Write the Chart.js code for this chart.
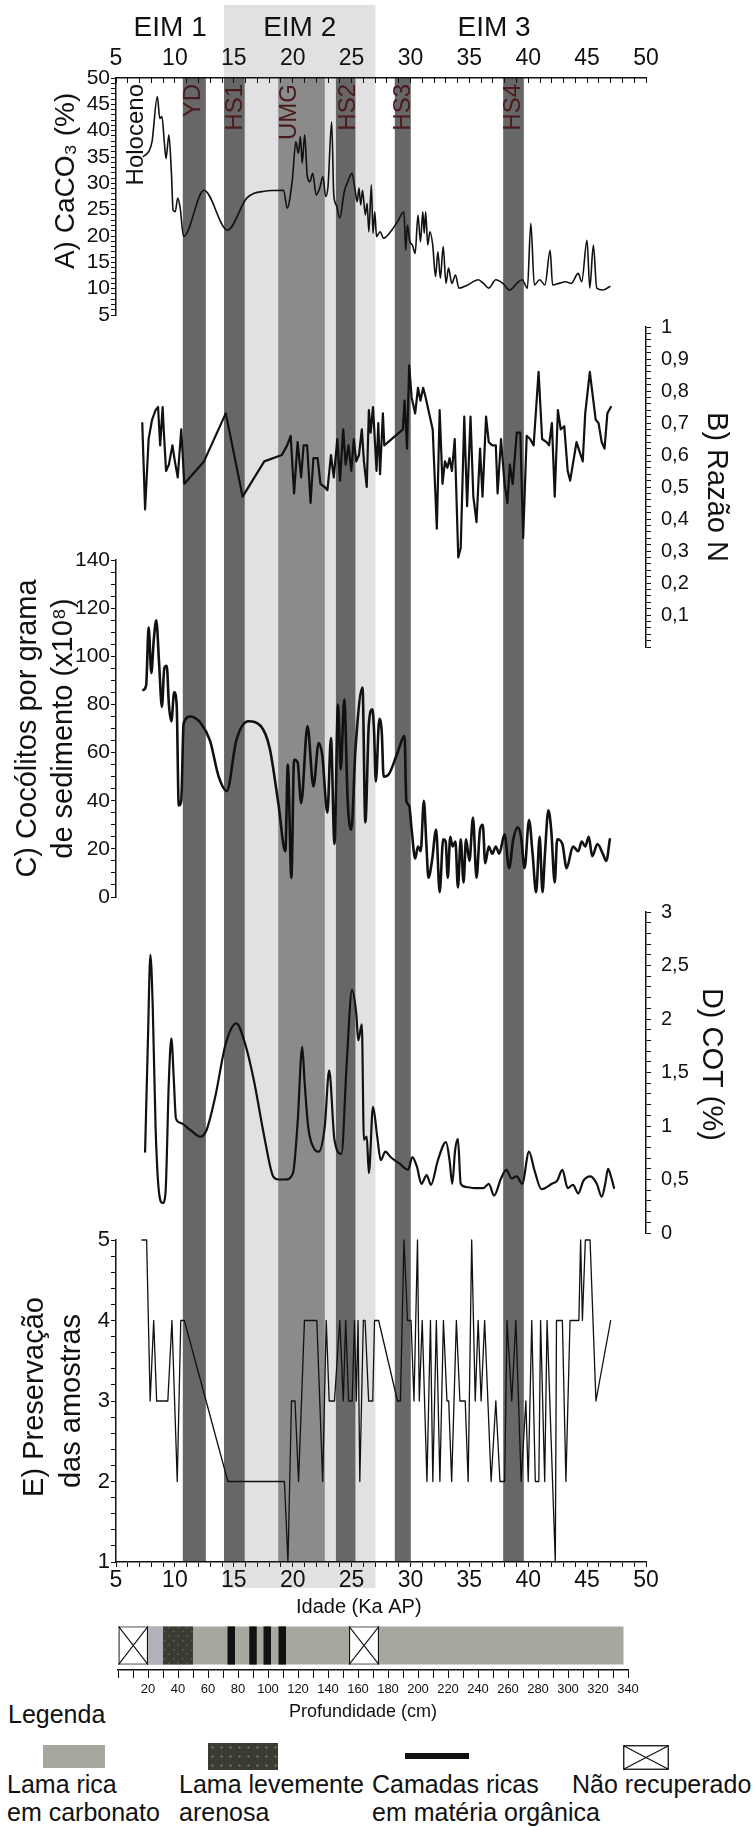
<!DOCTYPE html>
<html><head><meta charset="utf-8">
<script src="https://cdn.jsdelivr.net/npm/chart.js@4.4.1/dist/chart.umd.min.js"></script>
<style>
html,body{margin:0;padding:0;background:#fff;}
#wrap{position:relative;width:753px;height:1827px;overflow:hidden;background:#fff;font-family:'Liberation Sans',Arial,Helvetica,sans-serif;color:#111;}
#wrap canvas{position:absolute;left:0;top:0;}
.t{position:absolute;white-space:nowrap;font-size:25px;line-height:28px;}
.sw{position:absolute;box-sizing:border-box;}
</style></head>
<body><div id="wrap">
<div class="t" style="left:8px;top:1700px;">Legenda</div>
<div class="sw" style="left:43px;top:1745px;width:62px;height:23px;background:#a8a79f;"></div>
<div class="sw" style="left:208px;top:1743px;width:70px;height:27px;background-color:#3b3b34;background-image:radial-gradient(circle,#66665a 1px,transparent 1.3px);background-size:9px 9px;"></div>
<div class="sw" style="left:405px;top:1753px;width:64px;height:6px;background:#111;"></div>
<svg class="sw" style="left:623px;top:1745px;" width="46" height="25"><rect x="0.75" y="0.75" width="44.5" height="23.5" fill="#fff" stroke="#111" stroke-width="1.3"/><line x1="1" y1="1" x2="45" y2="24" stroke="#111" stroke-width="1.2"/><line x1="1" y1="24" x2="45" y2="1" stroke="#111" stroke-width="1.2"/></svg>
<div class="t" style="left:7px;top:1770px;">Lama rica<br>em carbonato</div>
<div class="t" style="left:179px;top:1770px;">Lama levemente<br>arenosa</div>
<div class="t" style="left:372px;top:1770px;">Camadas ricas<br>em matéria orgânica</div>
<div class="t" style="left:572px;top:1770px;">Não recuperado</div>
</div>
<script>
// ---------------- DATA ----------------
const ageLabels = [5,10,15,20,25,30,35,40,45,50];
const caTicks = [5,10,15,20,25,30,35,40,45,50];
const nTicks = [0.1,0.2,0.3,0.4,0.5,0.6,0.7,0.8,0.9,1];
const cocTicks = [0,20,40,60,80,100,120,140];
const cotTicks = [0,0.5,1,1.5,2,2.5,3];
const presTicks = [1,2,3,4,5];
const depthLabels = [20,40,60,80,100,120,140,160,180,200,220,240,260,280,300,320,340];

const eimNames = ['EIM 1','EIM 2','EIM 3'];
const eimStart = [5, 14.2, 27.0];
const eimEnd = [14.2, 27.0, 47.2];

const bandNames = ['YD','HS1','UMG','HS2','HS3','HS4'];
const bandStart = [10.7, 14.2, 18.8, 23.7, 28.7, 37.9];
const bandEnd = [12.6, 15.9, 22.7, 25.3, 30.0, 39.6];

const markerNames = ['Holoceno','YD','HS1','UMG','HS2','HS3','HS4'];
const markerAges = [6.7, 11.6, 15.1, 19.7, 24.7, 29.4, 38.7];

// A) CaCO3 (%)
const caAge = [7.32,7.77,8.06,8.51,8.72,8.9,9.1,9.25,9.49,9.7,9.85,10.03,10.24,10.45,10.74,12.47,14.47,16.1,17.6,19.23,19.53,19.97,20.27,20.48,20.66,20.81,21.02,21.23,21.46,21.7,22.0,22.3,22.57,22.8,23.0,23.31,23.49,23.7,24.0,24.38,24.68,25.04,25.28,25.48,25.63,25.78,25.93,26.17,26.32,26.47,26.68,26.82,26.97,27.12,27.42,27.72,28.31,28.9,29.45,29.6,29.74,29.95,30.16,30.4,30.64,30.85,31.05,31.17,31.29,31.47,31.65,31.89,32.13,32.33,32.54,32.78,33.02,33.23,33.52,33.82,34.12,34.86,35.76,36.2,36.65,37.25,37.84,38.44,39.03,39.48,39.93,40.22,40.52,40.97,41.42,41.86,42.07,42.61,43.2,43.65,44.25,44.54,44.99,45.23,45.53,45.82,46.33,46.93];
const caVal = [35.1,36,37.9,46.5,42.3,42.7,37.9,34.7,39.2,32.2,24.9,24.6,27.2,25.3,19.9,28.7,21.1,27.2,28.5,28.7,25.3,30.6,37.9,35.7,38.9,33.8,39.2,31.6,30.3,31.9,27.8,29.1,31.3,27.5,29.4,41.7,27.8,25.9,23.4,28.4,30.3,31.9,29.1,26.5,29.1,25.9,28.7,24,26.2,20.8,29.7,20.5,24.6,19.9,20.8,19.6,20.8,22.7,24.6,17.3,22.1,18.9,18.3,16.7,24,18.9,24.6,20.5,24.6,18.3,20.8,18.3,12.3,17,12,18,11,13.9,11,12.6,10.1,10.7,11.7,11,10.1,11.7,11,9.75,11,11.7,10.1,22.4,10.7,11.7,10.7,17.3,10.7,11,11.3,11,12.9,11.3,19.2,10.1,18.3,10.1,9.75,10.4];

// B) Razão N
const nAge = [7.23,7.47,7.77,8.06,8.36,8.57,8.75,8.96,9.05,9.25,9.49,9.79,10.0,10.24,10.54,10.8,12.47,14.32,15.75,17.59,19.08,19.53,19.83,20.12,20.42,20.72,20.93,21.23,21.52,21.76,22.12,22.36,22.72,22.95,23.25,23.49,23.79,24.02,24.29,24.5,24.74,24.98,25.19,25.4,25.63,25.87,26.05,26.29,26.47,26.62,26.82,26.97,27.12,27.27,27.42,27.66,27.78,29.36,29.5,29.71,29.89,30.1,30.4,30.64,30.85,31.08,31.29,31.59,31.89,32.24,32.48,32.72,32.93,33.14,33.32,33.52,33.76,34.06,34.27,34.57,34.81,35.1,35.34,35.61,35.91,36.12,36.42,36.65,36.95,37.25,37.4,37.69,37.99,38.23,38.44,38.68,39.03,39.33,39.57,39.87,40.16,40.46,40.88,41.18,41.56,41.77,42.01,42.25,42.52,42.76,43.06,43.35,43.56,44.1,44.63,44.84,45.23,45.73,45.97,46.24,46.48,46.72,47.02];
const nVal = [0.70,0.43,0.65,0.71,0.74,0.75,0.63,0.75,0.68,0.55,0.57,0.63,0.58,0.53,0.68,0.51,0.58,0.73,0.47,0.58,0.60,0.63,0.66,0.48,0.64,0.53,0.63,0.63,0.45,0.59,0.59,0.51,0.50,0.49,0.60,0.53,0.65,0.52,0.68,0.57,0.63,0.55,0.65,0.58,0.60,0.68,0.58,0.50,0.74,0.67,0.75,0.65,0.55,0.70,0.54,0.73,0.63,0.68,0.77,0.62,0.88,0.78,0.73,0.81,0.77,0.81,0.78,0.73,0.68,0.37,0.74,0.51,0.58,0.56,0.59,0.55,0.65,0.28,0.31,0.72,0.44,0.72,0.47,0.39,0.62,0.47,0.72,0.64,0.63,0.63,0.48,0.65,0.51,0.45,0.57,0.51,0.67,0.67,0.34,0.66,0.65,0.63,0.86,0.65,0.64,0.63,0.70,0.47,0.74,0.68,0.69,0.55,0.52,0.64,0.58,0.73,0.86,0.71,0.70,0.64,0.62,0.73,0.75];

// C) Cocólitos por grama de sedimento (x10^8)
const cocAge = [7.32,7.56,7.77,8.0,8.21,8.42,8.66,8.9,9.1,9.31,9.49,9.7,9.94,10.15,10.33,10.54,10.74,11.34,12.23,12.98,13.72,14.41,15.21,16.25,17.3,18.04,18.78,19.38,19.59,19.89,20.12,20.42,20.72,21.26,21.76,22.21,22.51,22.95,23.25,23.55,23.85,24.08,24.38,24.68,24.98,25.34,25.93,26.17,26.47,26.77,26.91,27.06,27.36,27.57,27.72,28.16,28.91,29.5,29.65,29.89,30.1,30.4,30.64,30.87,31.14,31.35,31.53,31.83,32.18,32.48,32.78,32.99,33.17,33.38,33.58,33.82,34.03,34.27,34.51,34.72,35.01,35.31,35.61,35.91,36.14,36.35,36.65,36.95,37.25,37.54,37.99,38.38,38.73,39.12,39.39,39.69,40.07,40.37,40.67,40.97,41.21,41.42,41.71,41.95,42.25,42.46,42.9,43.26,43.8,44.25,44.54,44.84,45.14,45.43,45.88,46.33,46.63,46.93];
const cocVal = [86,88,112,93,107,115,97,79,95,96,80,73,85,80,38,40,72,75,72,65,50,44,65,73,71,62,39,19,55,8,57,56,39,71,46,64,59,35,66,22,80,53,82,39,28,62,87,31,72,78,69,48,74,68,50,51,60,67,40,38,28,16,21,19,40,22,8,15,28,2,24,23,8,25,21,23,4,24,6,24,15,33,8,28,30,14,21,18,21,18,26,12,24,29,25,12,32,18,2,25,2,18,36,28,6,24,22,12,21,19,23,21,25,17,22,18,15,24];

// D) COT (%)
const cotAge = [7.47,7.71,7.92,8.12,8.36,8.66,8.96,9.2,9.49,9.7,9.91,10.09,10.45,11.34,12.17,12.68,13.42,14.32,15.21,15.96,16.7,17.59,18.34,18.78,19.38,20.03,20.42,20.81,21.02,21.32,21.76,22.21,22.72,23.1,23.55,24.14,24.59,25.04,25.4,25.57,25.87,26.05,26.29,26.47,26.82,27.18,27.48,27.87,28.31,29.06,29.8,30.16,30.55,30.93,31.38,31.74,32.33,33.02,33.32,33.55,33.79,34.03,34.27,34.72,35.46,36.2,36.65,37.1,37.69,38.14,38.59,39.03,39.48,40.07,40.52,41.12,42.01,42.46,42.9,43.35,43.8,44.25,44.69,45.29,45.82,46.24,46.54,46.78,47.02,47.29];
const cotVal = [0.76,1.8,2.6,2.11,0.99,0.37,0.28,0.37,1.43,1.82,1.43,1.07,1.03,0.96,0.9,0.96,1.27,1.77,1.96,1.77,1.43,0.9,0.53,0.5,0.5,0.56,1.03,1.74,1.4,0.99,0.8,0.76,0.99,1.52,0.87,0.74,1.59,2.27,2.05,1.8,1.95,0.87,0.9,0.56,1.18,0.9,0.68,0.76,0.71,0.65,0.59,0.71,0.62,0.46,0.54,0.45,0.68,0.85,0.68,0.46,0.77,0.88,0.46,0.43,0.42,0.42,0.46,0.35,0.51,0.59,0.51,0.53,0.46,0.76,0.59,0.41,0.46,0.49,0.59,0.42,0.45,0.37,0.49,0.53,0.46,0.34,0.46,0.6,0.53,0.42];

// E) Preservação das amostras
const presAge = [7.2,7.6,7.9,8.2,8.45,9.4,9.75,10.2,10.5,10.8,14.5,19.3,19.6,19.9,20.2,20.5,21.0,22.05,22.55,22.85,23.1,23.55,24.0,24.3,24.5,24.75,25.05,25.25,25.4,25.55,25.7,26.0,26.15,26.45,26.8,26.95,27.3,28.9,29.15,29.45,29.75,30.05,30.3,30.6,30.75,31.0,31.4,31.7,31.9,32.2,32.5,32.8,33.1,33.25,33.5,33.9,34.2,34.65,34.9,35.2,35.5,35.75,36.0,36.3,36.85,37.25,37.6,38.0,38.2,38.6,38.95,39.4,39.8,40.0,40.3,40.6,40.9,41.05,41.4,41.6,42.3,42.4,42.9,43.2,43.55,44.3,44.45,44.6,44.85,45.25,45.75,47.0];
const presVal = [5,5,3,4,3,3,4,2,4,4,2,2,1,3,3,2,4,4,2,4,3,3,4,3,4,3,3,4,3,4,2,4,4,3,3,4,4,3,3,5,4,4,3,5,3,4,2,4,2,4,2,4,3,3,2,4,3,3,2,5,3,4,3,4,2,3,2,2,4,3,4,2,3,2,4,2,2,4,2,4,1,4,4,2,4,4,5,4,5,5,3,4];

// Core log (depth, cm) — listed top layer first, base sediment last
const coreStart = [0, 20, 30, 73, 87.5, 97, 107, 154, 0];
const coreEnd = [20, 30, 50, 78, 92.5, 102, 112, 174, 337];
const coreKind = ['nr','light','sand','org','org','org','org','nr','carb'];

// ---------------- RENDERING ----------------
const W = 753, H = 1827, XL = 116, XR = 646;
const INK = '#111111';
const NB = '\u00a0';
const FONT = "'Liberation Sans', Arial, Helvetica, sans-serif";
Chart.defaults.font.family = FONT;
Chart.defaults.color = INK;

const wrap = document.getElementById('wrap');
function mkCanvas(){
  const c = document.createElement('canvas');
  c.width = W; c.height = H;
  c.style.width = W + 'px'; c.style.height = H + 'px';
  wrap.appendChild(c);
  return c;
}
function pick(list, v, fmt){
  const hit = list.find(e => Math.abs(e - v) < 1e-6);
  return hit === undefined ? '' : fmt(hit);
}
const comma = v => String(v).replace('.', ',');
const plain = v => String(v);
const baseOpts = {responsive:false, animation:false, events:[], plugins:{legend:{display:false}, tooltip:{enabled:false}}};

// light EIM 2 band + EIM labels
const eimPlugin = {
  id:'eim',
  afterDatasetsDraw(chart){
    const ctx = chart.ctx, xs = chart.scales.x;
    ctx.save();
    ctx.font = '28px ' + FONT;
    ctx.fillStyle = INK; ctx.textAlign = 'center'; ctx.textBaseline = 'middle';
    eimNames.forEach((n, i) => {
      ctx.fillText(n, xs.getPixelForValue((eimStart[i] + eimEnd[i]) / 2), 28);
    });
    ctx.restore();
  }
};
new Chart(mkCanvas(), {
  type:'bar',
  data:{labels:[''], datasets:[{data:[[eimStart[1], eimEnd[1]]], backgroundColor:'#e1e1e3', borderWidth:0, barPercentage:1, categoryPercentage:1}]},
  options:{...baseOpts, indexAxis:'y',
    layout:{padding:{left:XL, right:W-XR, top:5, bottom:H-1588}},
    scales:{x:{type:'linear', min:5, max:50, display:false}, y:{type:'category', display:false}}},
  plugins:[eimPlugin]
});

// dark event bands + labels
const markerPlugin = {
  id:'markers',
  afterDatasetsDraw(chart){
    const ctx = chart.ctx, xs = chart.scales.x, top = chart.chartArea.top;
    ctx.save();
    ctx.font = '24px ' + FONT;
    ctx.textAlign = 'right'; ctx.textBaseline = 'middle';
    markerNames.forEach((n, i) => {
      ctx.save();
      ctx.translate(xs.getPixelForValue(markerAges[i]), top + 6);
      ctx.rotate(-Math.PI / 2);
      ctx.fillStyle = n === 'Holoceno' ? INK : '#4a1a1c';
      ctx.fillText(n, 0, 0);
      ctx.restore();
    });
    ctx.restore();
  }
};
new Chart(mkCanvas(), {
  type:'bar',
  data:{labels:[''], datasets: bandNames.map((n, i) => ({
    label:n, data:[[bandStart[i], bandEnd[i]]],
    backgroundColor: n === 'UMG' ? '#8b8b8b' : '#676767',
    borderWidth:0, barPercentage:1, categoryPercentage:1, grouped:false
  }))},
  options:{...baseOpts, indexAxis:'y',
    layout:{padding:{left:XL, right:W-XR, top:78, bottom:H-1562}},
    scales:{x:{type:'linear', min:5, max:50, display:false}, y:{type:'category', display:false}}},
  plugins:[markerPlugin]
});

function lineChart(cfg){
  const isLeft = cfg.yPos === 'left';
  const xH = cfg.xPos === 'top' ? cfg.top : (cfg.xPos === 'bottom' ? 60 : 0);
  const xScale = {
    type:'linear', min:5, max:50, display: !!cfg.xPos, position: cfg.xPos || 'bottom',
    afterFit: s => { s.height = xH; },
    border:{display:true, color:INK, width:1.5},
    grid:{drawOnChartArea:false, drawTicks:true, tickLength: cfg.xPos === 'top' ? -5 : 5, tickColor:INK, tickWidth:1},
    ticks:{stepSize:1, autoSkip:false, maxRotation:0, minRotation:0, color:INK,
      padding: cfg.xPos === 'top' ? 11 : 0, font:{size:23},
      callback: v => pick(ageLabels, v, plain)},
    title: cfg.xTitle ? {display:true, text:cfg.xTitle, color:INK, font:{size:20, lineHeight:1.2}, padding:{top:0, bottom:3}} : {display:false}
  };
  const yScale = {
    type:'linear', min:cfg.min, max:cfg.max, position:cfg.yPos,
    afterFit: s => { s.width = isLeft ? XL : W - XR; },
    border:{display:true, color:INK, width:1.5},
    grid:{drawOnChartArea:false, drawTicks:true, tickLength:5, tickColor:INK, tickWidth:1},
    ticks:{stepSize:cfg.step, autoSkip:false, color:INK, padding: isLeft ? 1 : 10, crossAlign:'near',
      font:{size:cfg.tickSize}, callback: v => pick(cfg.ticks, v, cfg.fmt)},
    title:{display:true, text:cfg.title, color:INK, font:{size:cfg.titleSize, lineHeight:cfg.titleLH}, padding:{top:cfg.titlePad, bottom:0}}
  };
  return new Chart(mkCanvas(), {
    type:'line',
    data:{datasets:[{
      data: cfg.ages.map((a, i) => ({x:a, y:cfg.vals[i]})),
      borderColor:INK, borderWidth:cfg.lw, pointRadius:0, fill:false, clip:8,
      tension: cfg.smooth ? 0.4 : 0, cubicInterpolationMode: cfg.smooth ? 'monotone' : 'default',
      borderJoinStyle:'round', borderCapStyle:'round'
    }]},
    options:{...baseOpts,
      layout:{padding:{
        left: isLeft ? 0 : XL, right: isLeft ? W - XR : 0,
        top: cfg.xPos === 'top' ? 0 : cfg.top,
        bottom: cfg.xPos === 'bottom' ? H - cfg.bottom - xH : H - cfg.bottom}},
      scales:{x:xScale, y:yScale}}
  });
}

lineChart({ages:caAge, vals:caVal, top:78, bottom:315, xPos:'top', yPos:'left', min:5, max:50, step:1,
  ticks:caTicks, fmt:plain, tickSize:21, title:NB+NB+NB+NB+'A) CaCO₃ (%)', titleSize:28, titleLH:1.2, titlePad:49, lw:1.6, smooth:true});
lineChart({ages:nAge, vals:nVal, top:327, bottom:647, xPos:null, yPos:'right', min:0, max:1, step:0.02,
  ticks:nTicks, fmt:comma, tickSize:20, title:'B) Razão N', titleSize:29, titleLH:1.2, titlePad:20, lw:2.2, smooth:false});
lineChart({ages:cocAge, vals:cocVal, top:560, bottom:897, xPos:null, yPos:'left', min:0, max:140, step:5,
  ticks:cocTicks, fmt:plain, tickSize:21, title:['C) Cocólitos por grama','de sedimento (x10⁸)'], titleSize:29, titleLH:1.24, titlePad:10, lw:2.6, smooth:true});
lineChart({ages:cotAge, vals:cotVal, top:912, bottom:1233, xPos:null, yPos:'right', min:0, max:3, step:0.1,
  ticks:cotTicks, fmt:comma, tickSize:20, title:'D) COT (%)'+NB+NB, titleSize:29, titleLH:1.2, titlePad:25, lw:2.2, smooth:true});
lineChart({ages:presAge, vals:presVal, top:1240, bottom:1562, xPos:'bottom', yPos:'left', min:1, max:5, step:0.2,
  ticks:presTicks, fmt:plain, tickSize:22, title:[NB+'E) Preservação', 'das amostras'], titleSize:29, titleLH:1.27, titlePad:17, lw:1.3, smooth:false,
  xTitle:'Idade (Ka AP)'+NB+NB+NB+NB+NB+NB+NB+NB});

// Core log
function sandPattern(){
  const c = document.createElement('canvas'); c.width = 9; c.height = 9;
  const g = c.getContext('2d');
  g.fillStyle = '#3b3b34'; g.fillRect(0, 0, 9, 9);
  g.fillStyle = '#67675b'; g.fillRect(2, 2, 1.4, 1.4); g.fillRect(6.5, 6.5, 1.4, 1.4);
  return g.createPattern(c, 'repeat');
}
const coreFill = {carb:'#a8a79f', nr:'#ffffff', light:'#b3b2bb', sand:sandPattern(), org:'#111111'};
const crossPlugin = {
  id:'cross',
  afterDatasetsDraw(chart){
    const ctx = chart.ctx;
    ctx.save(); ctx.strokeStyle = INK; ctx.lineWidth = 1.1;
    coreKind.forEach((k, i) => {
      if (k !== 'nr') return;
      const el = chart.getDatasetMeta(i).data[0];
      const p = el.getProps(['x','y','base','height'], true);
      const t = p.y - p.height / 2, b = p.y + p.height / 2;
      ctx.beginPath();
      ctx.moveTo(p.base, t); ctx.lineTo(p.x, b);
      ctx.moveTo(p.base, b); ctx.lineTo(p.x, t);
      ctx.stroke();
    });
    ctx.restore();
  }
};
new Chart(mkCanvas(), {
  type:'bar',
  data:{labels:['core'], datasets: coreKind.map((k, i) => ({
    data:[[coreStart[i], coreEnd[i]]], backgroundColor: coreFill[k],
    borderColor:INK, borderWidth: k === 'nr' ? 1.2 : 0, borderSkipped:false,
    grouped:false, barPercentage:0.78, categoryPercentage:1
  }))},
  options:{...baseOpts, indexAxis:'y',
    layout:{padding:{left:118, right:W-628, top:1621, bottom:H-1670-55}},
    scales:{
      x:{type:'linear', min:0, max:340, position:'bottom',
        afterFit: s => { s.height = 55; },
        border:{display:true, color:INK, width:1.5},
        grid:{drawOnChartArea:false, drawTicks:true, tickLength:8, tickColor:INK, tickWidth:1},
        ticks:{stepSize:10, autoSkip:false, maxRotation:0, minRotation:0, padding:4, color:INK, font:{size:13},
          callback: v => pick(depthLabels, v, plain)},
        title:{display:true, text:'Profundidade (cm)'+NB+NB+NB+NB, color:INK, font:{size:18, lineHeight:1.2}, padding:{top:0, bottom:2}}},
      y:{type:'category', display:false}}},
  plugins:[crossPlugin]
});
</script>
</body></html>
